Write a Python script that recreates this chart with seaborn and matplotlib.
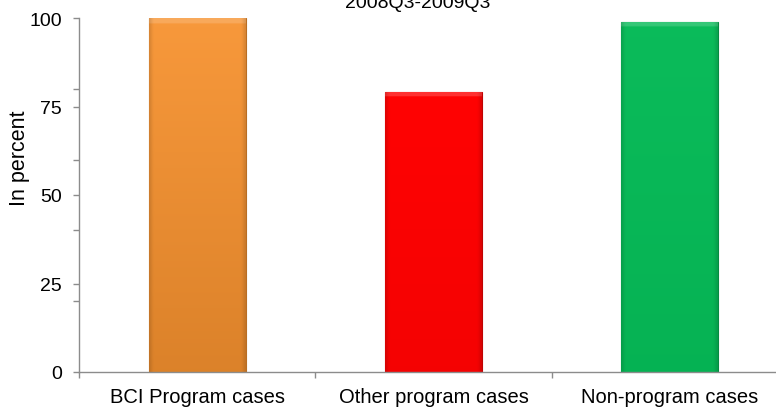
import numpy as np
import pandas as pd
import matplotlib
matplotlib.use("Agg")
import matplotlib.pyplot as plt
from matplotlib.colors import to_rgb
import seaborn as sns

# Share of cases, 2008Q3-2009Q3
categories = ["BCI Program cases", "Other program cases", "Non-program cases"]
values = [100, 79, 99]
bar_colors = ["#F7922F", "#FF0303", "#06BA57"]
title = "2008Q3-2009Q3"
ylabel = "In percent"
ytick_values = [0, 25, 50, 75, 100]
yminor_values = [20, 40, 60, 80]

df = pd.DataFrame({"category": categories, "value": values})

sns.set_theme(style="white")
plt.rcParams["font.family"] = ["Liberation Sans", "DejaVu Sans"]

W, H = 776, 410
fig = plt.figure(figsize=(W / 100, H / 100), dpi=100)
ax = fig.add_axes([79 / W, 37 / H, 709 / W, 354 / H])

sns.barplot(data=df, x="category", y="value", hue="category",
            palette=bar_colors, width=0.41, ax=ax, legend=False,
            saturation=1, linewidth=0)

ax.set_xlim(-0.5, 2.5)
ax.set_ylim(0, 100)


def shade(c, f):
    c = np.array(to_rgb(c))
    if f >= 0:
        return c + (1 - c) * f
    return c * (1 + f)


# top / bottom shading strength per bar
grad_top = [0.06, 0.0, 0.02]
grad_bot = [-0.11, -0.04, -0.04]

# Bevelled gradient fill for each bar
for patch, col, gt, gb in zip(ax.patches, bar_colors, grad_top, grad_bot):
    x0, y0 = patch.get_x(), patch.get_y()
    w, h = patch.get_width(), patch.get_height()
    n = 200
    t = np.linspace(0, 1, n)  # 0 = top, 1 = bottom
    top = shade(col, gt)
    bot = shade(col, gb)
    grad = top[None, :] * (1 - t[:, None]) + bot[None, :] * t[:, None]
    img = np.repeat(grad[:, None, :], 60, axis=1)
    # light highlight band near the top edge
    hl = (t < 0.012)
    img[hl] = img[hl] * 0.6 + shade(col, 0.45) * 0.4
    # slightly darker vertical edges
    xs = np.linspace(0, 1, 60)
    edge = np.clip(1 - np.minimum(xs, 1 - xs) / 0.04, 0, 1) * 0.12
    img = img * (1 - edge[None, :, None])
    im = ax.imshow(img, extent=[x0, x0 + w, y0, y0 + h], aspect="auto",
                   origin="upper", zorder=patch.get_zorder() + 0.1,
                   interpolation="bilinear")
    im.set_clip_path(patch)
    patch.set_edgecolor(shade(col, -0.25))
    patch.set_linewidth(0.8)

ax.set_aspect("auto")
ax.set_xlim(-0.5, 2.5)
ax.set_ylim(0, 100)

# Spines and ticks
axis_gray = "#8C8C8C"
for s in ["top", "right"]:
    ax.spines[s].set_visible(False)
for s in ["left", "bottom"]:
    ax.spines[s].set_color(axis_gray)
    ax.spines[s].set_linewidth(1.0)

ax.set_yticks(ytick_values)
ax.set_yticks(yminor_values, minor=True)
ax.tick_params(axis="y", which="both", direction="out", length=4.5,
               width=1.0, color=axis_gray, left=True, labelsize=14,
               labelcolor="black", pad=8)

# category boundaries carry the tick marks, labels sit at bar centres
ax.set_xticks([-0.5, 0.5, 1.5, 2.5])
ax.set_xticklabels([])
ax.set_xticks([0, 1, 2], minor=True)
ax.set_xticklabels(categories, minor=True)
ax.tick_params(axis="x", which="major", direction="out", length=4.5,
               width=1.0, color=axis_gray, bottom=True)
ax.tick_params(axis="x", which="minor", length=0, labelsize=14.5,
               labelcolor="black", pad=11)

ax.set_xlabel("")
ax.set_ylabel("")
fig.text(20 / W, 1 - 158 / H, ylabel, rotation=90, ha="center",
         va="center", fontsize=15.5, color="black")
fig.text(418 / W, 1 - 8 / H, title, ha="center", va="baseline",
         fontsize=14, color="black")

fig.savefig("out.png", dpi=100)
